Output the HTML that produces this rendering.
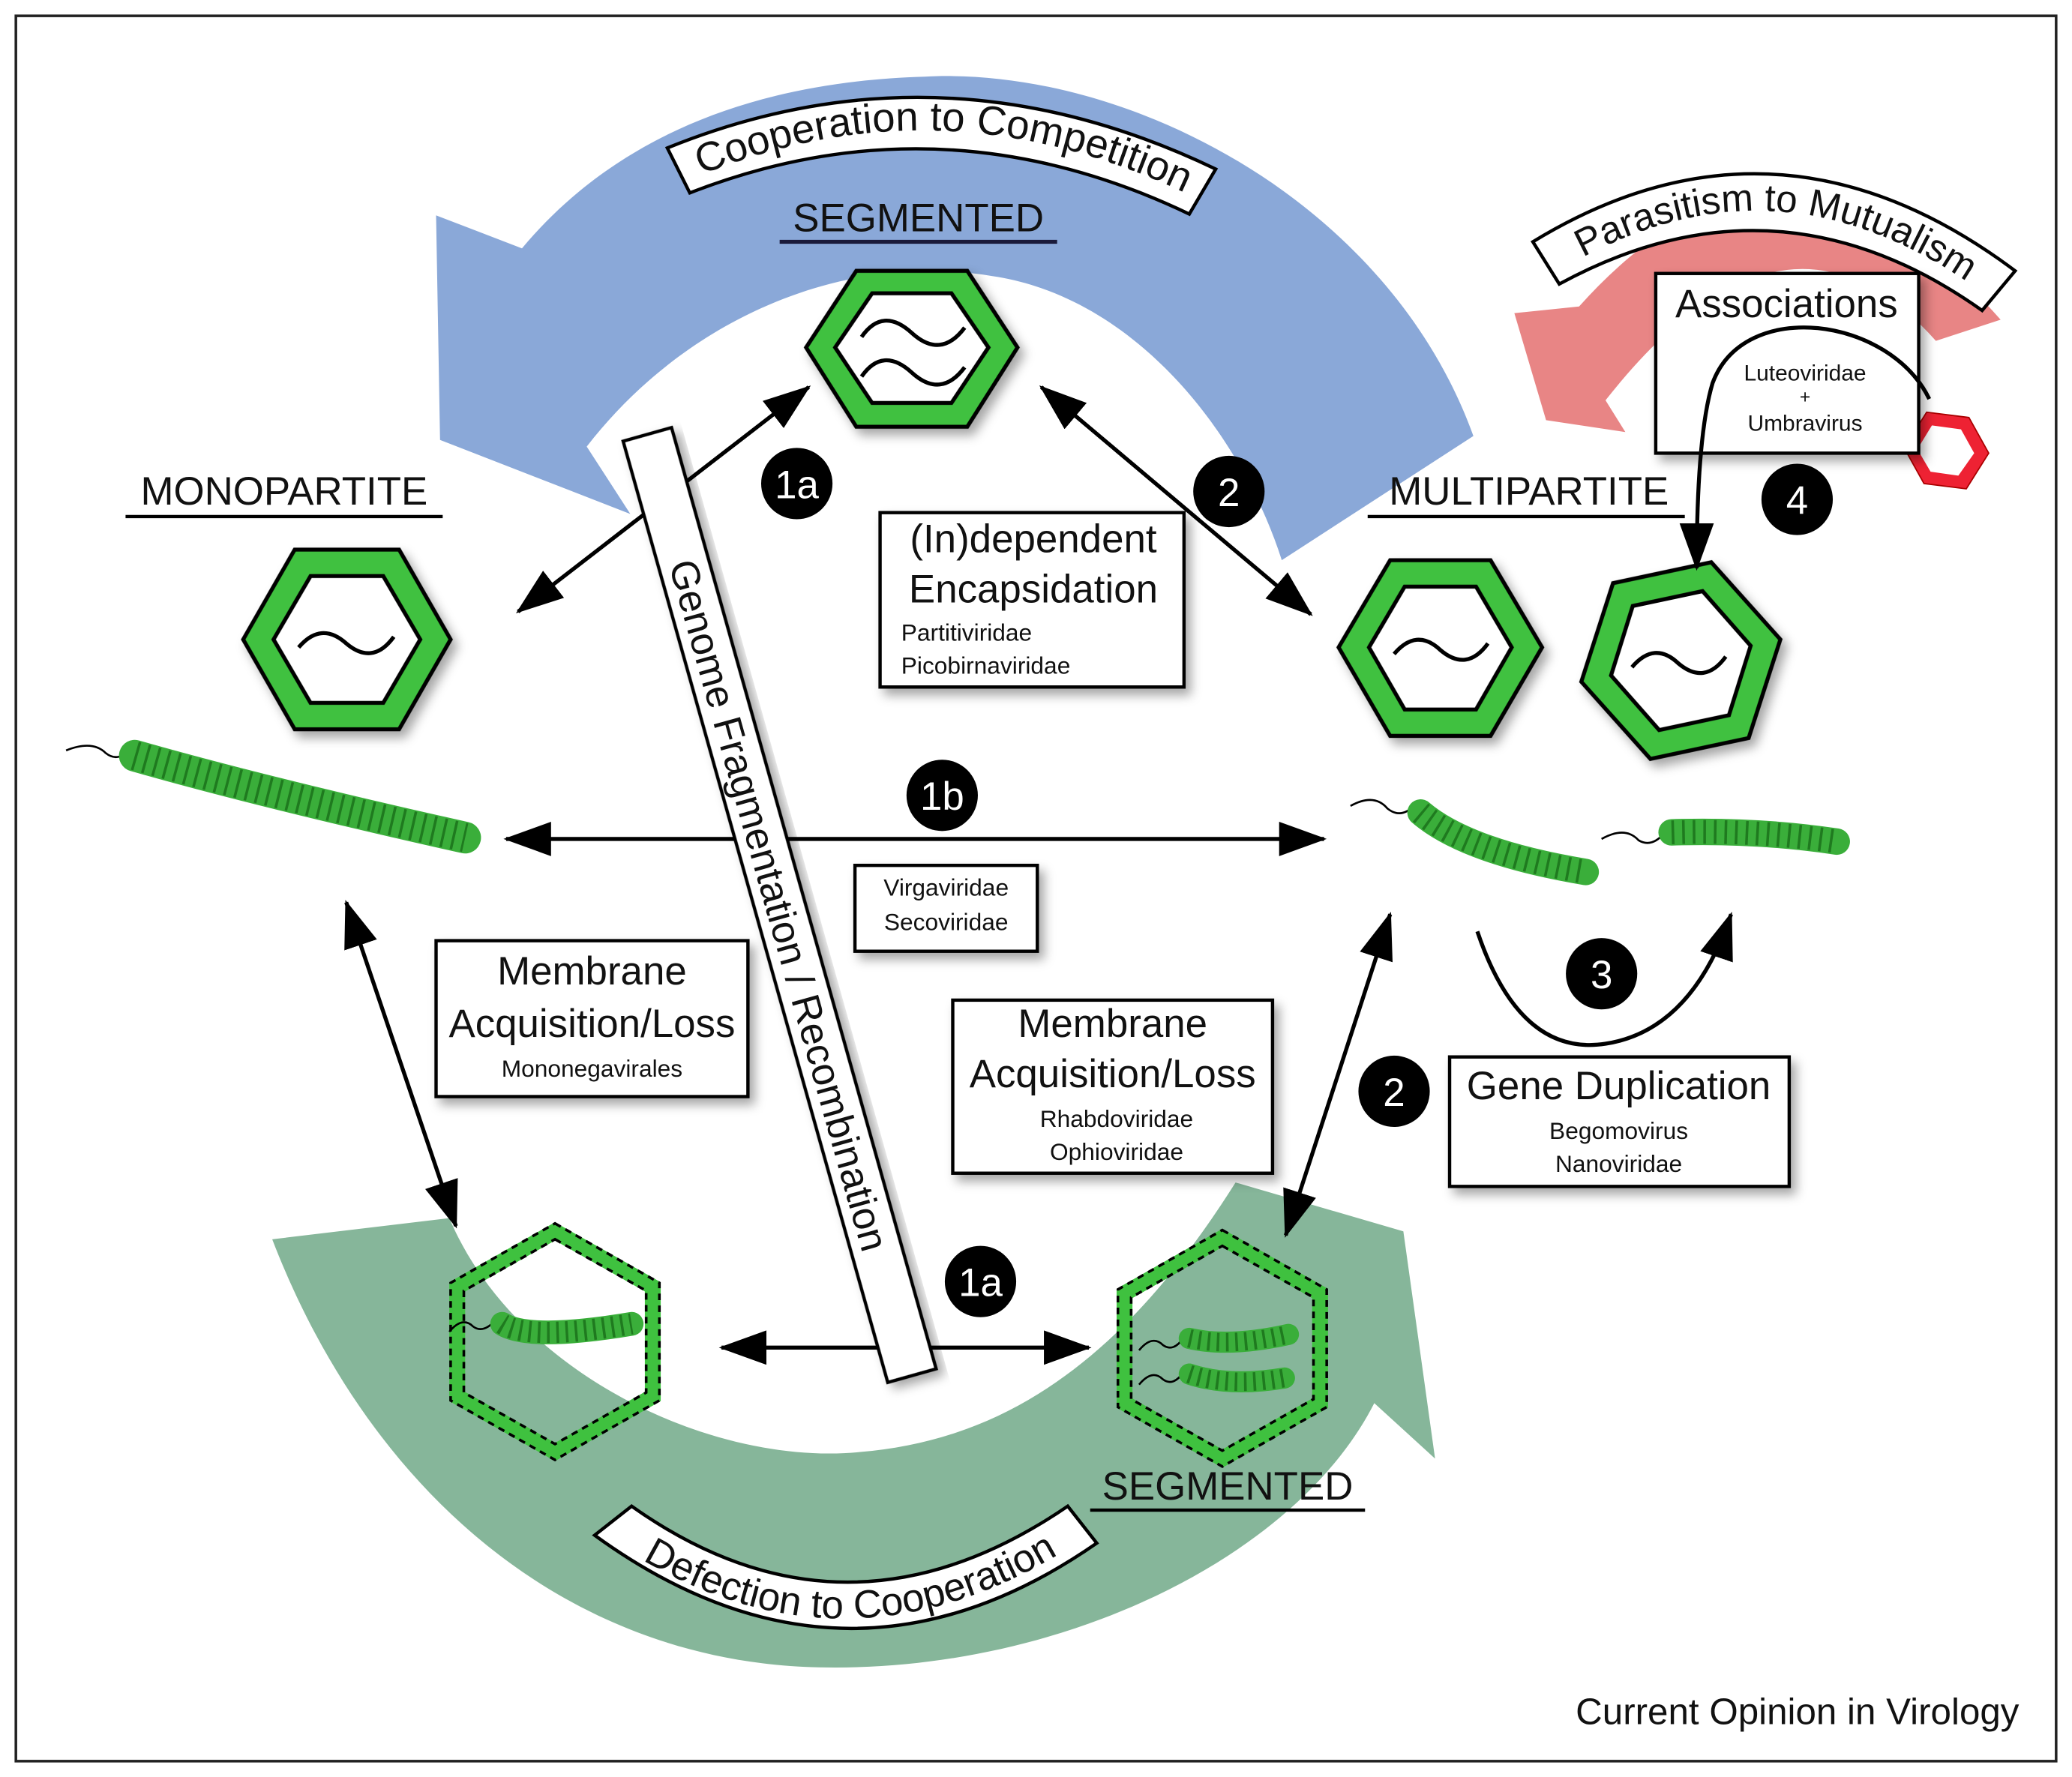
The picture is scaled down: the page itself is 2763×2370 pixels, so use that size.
<!DOCTYPE html>
<html><head><meta charset="utf-8"><style>html,body{margin:0;padding:0;background:#fff}svg{display:block}text{font-family:"Liberation Sans",Arial,sans-serif;fill:#111}</style></head><body>
<svg width="2763" height="2370" viewBox="0 0 1568 1345" xmlns="http://www.w3.org/2000/svg" font-family="Liberation Sans, Arial, sans-serif">
<defs>
<marker id="ah" markerUnits="userSpaceOnUse" markerWidth="40" markerHeight="30" refX="34" refY="13" orient="auto-start-reverse"><path d="M0,0 L36,13 L0,26 Z" fill="#000"/></marker>
<filter id="sh" x="-20%" y="-20%" width="140%" height="140%"><feDropShadow dx="4" dy="5" stdDeviation="4" flood-color="#000" flood-opacity="0.35"/></filter>
</defs>
<rect x="0" y="0" width="1568" height="1345" fill="#fff"/>
<rect x="12" y="12" width="1544" height="1321" fill="none" stroke="#222" stroke-width="2"/>

<!-- blue arrow -->
<path d="M1115 330 C1050 150 850 50 700 58 C560 62 460 110 395 188 L330 163 L333 333 L477 389 L444 338 C520 240 640 190 751 209 C860 225 940 330 970 424 Z" fill="#8aa8d8"/>
<!-- red arrow -->
<path d="M1514 242 Q1351 57 1195 232 L1146 237 L1170 318 L1230 327 L1215 303 Q1351 130 1465 258 Z" fill="#e88585"/>
<!-- green arrow -->
<path d="M206 938 L340 922 C390 1040 540 1110 651 1099 C760 1090 850 1030 935 895 L1062 932 L1086 1104 L1040 1062 C980 1180 800 1266 620 1262 C430 1258 280 1130 206 938 Z" fill="#86b69a"/>

<!-- banners -->
<path d="M505 112 Q712 28 920 128 L900 162 Q712 72 522 146 Z" fill="#fff" stroke="#000" stroke-width="2.5"/>
<path id="b1" d="M522 136 Q712 55 905 150" fill="none"/>
<text font-size="31"><textPath href="#b1" startOffset="50%" text-anchor="middle">Cooperation to Competition</textPath></text>
<path d="M1160 183 Q1345 70 1525 205 L1500 235 Q1345 125 1180 215 Z" fill="#fff" stroke="#000" stroke-width="2.5"/>
<path id="b2" d="M1180 205 Q1345 105 1505 225" fill="none"/>
<text font-size="29"><textPath href="#b2" startOffset="50%" text-anchor="middle">Parasitism to Mutualism</textPath></text>
<path d="M450 1162 Q640 1300 830 1168 L808 1140 Q640 1255 478 1140 Z" fill="#fff" stroke="#000" stroke-width="2.5"/>
<path id="b3" d="M472 1172 Q640 1280 815 1168" fill="none"/>
<text font-size="30"><textPath href="#b3" startOffset="50%" text-anchor="middle">Defection to Cooperation</textPath></text>

<!-- headings -->
<text x="695" y="175" font-size="30" text-anchor="middle" fill="#1a1a3a">SEGMENTED</text>
<line x1="590" y1="183" x2="800" y2="183" stroke="#1a1a3a" stroke-width="3"/>
<text x="215" y="382" font-size="30" text-anchor="middle">MONOPARTITE</text>
<line x1="95" y1="391" x2="335" y2="391" stroke="#000" stroke-width="2.5"/>
<text x="1157" y="382" font-size="30" text-anchor="middle">MULTIPARTITE</text>
<line x1="1035" y1="391" x2="1275" y2="391" stroke="#000" stroke-width="2.5"/>
<text x="929" y="1135" font-size="30" text-anchor="middle">SEGMENTED</text>
<line x1="825" y1="1143" x2="1033" y2="1143" stroke="#000" stroke-width="2.5"/>

<!-- solid hexes -->
<g filter="url(#sh)">
<polygon points="648,205 732,205 770,263 732,323 648,323 610,263" fill="#3fc13f" stroke="#000" stroke-width="3"/>
<polygon points="660,222 720,222 748,263 720,305 660,305 632,263" fill="#fff" stroke="#000" stroke-width="3"/>
<polygon points="223,416 302,416 341,484 302,552 223,552 184,484" fill="#3fc13f" stroke="#000" stroke-width="3"/>
<polygon points="235,436 290,436 318,484 290,532 235,532 207,484" fill="#fff" stroke="#000" stroke-width="3"/>
<polygon points="1052,424 1128,424 1167,490 1128,557 1052,557 1013,490" fill="#3fc13f" stroke="#000" stroke-width="3"/>
<polygon points="1063,444 1117,444 1144,490 1117,537 1063,537 1036,490" fill="#fff" stroke="#000" stroke-width="3"/>
<g transform="rotate(-12 1272 500)">
<polygon points="1234,432 1310,432 1349,500 1310,568 1234,568 1195,500" fill="#3fc13f" stroke="#000" stroke-width="3"/>
<polygon points="1245,452 1299,452 1326,500 1299,548 1245,548 1218,500" fill="#fff" stroke="#000" stroke-width="3"/>
</g>
</g>
<polygon points="1458,312 1490,316 1505,343 1488,370 1456,366 1441,339" fill="#e23" stroke="#a00" stroke-width="1"/>
<polygon points="1462,322 1484,325 1494,343 1482,360 1461,357 1451,340" fill="#fff"/>
<g fill="none" stroke="#000" stroke-width="3">
<path d="M652 255 Q668 232 690 252 Q712 272 730 248"/>
<path d="M652 285 Q668 262 690 282 Q712 302 730 278"/>
<path d="M226 490 Q243 470 262 487 Q282 504 298 482"/>
<path d="M1055 495 Q1072 475 1090 492 Q1110 509 1126 487"/>
<path d="M1235 505 Q1252 485 1270 502 Q1290 519 1306 497"/>
</g>

<!-- dashed hexes -->
<g fill="none">
<polygon points="420,932 494,974 494,1057 420,1099 346,1057 346,974" stroke="#3fc13f" stroke-width="12"/>
<polygon points="420,926 499,971 499,1060 420,1105 341,1060 341,971" stroke="#000" stroke-width="2" stroke-dasharray="5 4"/>
<polygon points="420,938 489,977 489,1054 420,1093 351,1054 351,977" stroke="#000" stroke-width="2" stroke-dasharray="5 4"/>
<polygon points="925,937 999,979 999,1062 925,1104 851,1062 851,979" stroke="#3fc13f" stroke-width="12"/>
<polygon points="925,931 1004,976 1004,1065 925,1110 846,1065 846,976" stroke="#000" stroke-width="2" stroke-dasharray="5 4"/>
<polygon points="925,943 994,982 994,1059 925,1098 856,1059 856,982" stroke="#000" stroke-width="2" stroke-dasharray="5 4"/>
</g>

<!-- rods -->
<g fill="none">
<path d="M50 568 Q70 560 80 570 Q90 578 100 565" stroke="#000" stroke-width="1.5"/>
<path d="M102 572 Q200 600 352 634" stroke="#3aae3a" stroke-width="24" stroke-linecap="round"/>
<path d="M102 572 Q200 600 352 634" stroke="#1f7a1f" stroke-width="22" stroke-dasharray="2 6"/>
<path d="M1022 610 Q1040 600 1050 612 Q1060 620 1070 610" stroke="#000" stroke-width="1.5"/>
<path d="M1075 615 Q1110 645 1200 660" stroke="#3aae3a" stroke-width="20" stroke-linecap="round"/>
<path d="M1075 615 Q1110 645 1200 660" stroke="#1f7a1f" stroke-width="18" stroke-dasharray="2 6"/>
<path d="M1212 635 Q1230 625 1240 636 Q1250 642 1260 630" stroke="#000" stroke-width="1.5"/>
<path d="M1265 630 Q1330 628 1390 637" stroke="#3aae3a" stroke-width="20" stroke-linecap="round"/>
<path d="M1265 630 Q1330 628 1390 637" stroke="#1f7a1f" stroke-width="18" stroke-dasharray="2 6"/>
<path d="M340 1008 Q350 996 358 1004 Q366 1010 376 998" stroke="#000" stroke-width="1.5"/>
<path d="M380 1002 Q400 1015 478 1002" stroke="#3aae3a" stroke-width="18" stroke-linecap="round"/>
<path d="M380 1002 Q400 1015 478 1002" stroke="#1f7a1f" stroke-width="16" stroke-dasharray="2 5"/>
<path d="M862 1022 Q872 1010 880 1018 Q888 1024 896 1012" stroke="#000" stroke-width="1.5"/>
<path d="M900 1013 Q930 1020 975 1010" stroke="#3aae3a" stroke-width="16" stroke-linecap="round"/>
<path d="M900 1013 Q930 1020 975 1010" stroke="#1f7a1f" stroke-width="14" stroke-dasharray="2 5"/>
<path d="M862 1048 Q872 1036 880 1044 Q888 1050 896 1038" stroke="#000" stroke-width="1.5"/>
<path d="M900 1040 Q930 1050 972 1043" stroke="#3aae3a" stroke-width="16" stroke-linecap="round"/>
<path d="M900 1040 Q930 1050 972 1043" stroke="#1f7a1f" stroke-width="14" stroke-dasharray="2 5"/>
</g>

<!-- arrows -->
<g stroke="#000" stroke-width="3" fill="none" marker-start="url(#ah)" marker-end="url(#ah)">
<line x1="392" y1="463" x2="612" y2="293"/>
<line x1="788" y1="293" x2="992" y2="465"/>
<line x1="383" y1="635" x2="1002" y2="635"/>
<line x1="262" y1="683" x2="345" y2="928"/>
<line x1="1052" y1="692" x2="973" y2="935"/>
<line x1="546" y1="1020" x2="824" y2="1020"/>
</g>
<path d="M1118 705 Q1150 800 1215 790 Q1280 780 1310 692" stroke="#000" stroke-width="3" fill="none" marker-end="url(#ah)"/>

<!-- genome bar -->
<g transform="translate(590 685) rotate(-15.7)">
<rect x="-19" y="-370" width="38" height="740" fill="#fff" stroke="#000" stroke-width="2.5" filter="url(#sh)"/>
<text transform="rotate(90)" x="0" y="11" font-size="30" text-anchor="middle">Genome Fragmentation / Recombination</text>
</g>

<!-- boxes -->
<g fill="#fff" stroke="#000" stroke-width="2.5" filter="url(#sh)">
<rect x="1253" y="207" width="199" height="136"/>
<rect x="666" y="388" width="230" height="132"/>
<rect x="647" y="655" width="138" height="65"/>
<rect x="330" y="712" width="236" height="118"/>
<rect x="721" y="757" width="242" height="131"/>
<rect x="1097" y="800" width="257" height="98"/>
</g>
<path d="M1460 302 C1430 240 1320 225 1296 290 Q1284 330 1284 430" stroke="#000" stroke-width="3" fill="none" marker-end="url(#ah)"/>
<g text-anchor="middle">
<text x="1352" y="240" font-size="30">Associations</text>
<text x="1366" y="288" font-size="17">Luteoviridae</text>
<text x="1366" y="305" font-size="14">+</text>
<text x="1366" y="326" font-size="17">Umbravirus</text>
<text x="782" y="418" font-size="30">(In)dependent</text>
<text x="782" y="456" font-size="30">Encapsidation</text>
<text x="716" y="678" font-size="18">Virgaviridae</text>
<text x="716" y="704" font-size="18">Secoviridae</text>
<text x="448" y="745" font-size="30">Membrane</text>
<text x="448" y="785" font-size="30">Acquisition/Loss</text>
<text x="448" y="815" font-size="18">Mononegavirales</text>
<text x="842" y="785" font-size="30">Membrane</text>
<text x="842" y="823" font-size="30">Acquisition/Loss</text>
<text x="845" y="853" font-size="18">Rhabdoviridae</text>
<text x="845" y="878" font-size="18">Ophioviridae</text>
<text x="1225" y="832" font-size="30">Gene Duplication</text>
<text x="1225" y="862" font-size="18">Begomovirus</text>
<text x="1225" y="887" font-size="18">Nanoviridae</text>
</g>
<text x="682" y="485" font-size="18">Partitiviridae</text>
<text x="682" y="510" font-size="18">Picobirnaviridae</text>

<!-- circles -->
<g fill="#000">
<circle cx="603" cy="366" r="27"/><circle cx="930" cy="372" r="27"/><circle cx="1360" cy="378" r="27"/>
<circle cx="713" cy="602" r="27"/><circle cx="1212" cy="737" r="27"/><circle cx="1055" cy="826" r="27"/><circle cx="742" cy="970" r="27"/>
</g>
<g text-anchor="middle" font-size="30">
<text x="603" y="377" style="fill:#fff">1a</text>
<text x="930" y="383" style="fill:#fff">2</text>
<text x="1360" y="389" style="fill:#fff">4</text>
<text x="713" y="613" style="fill:#fff">1b</text>
<text x="1212" y="748" style="fill:#fff">3</text>
<text x="1055" y="837" style="fill:#fff">2</text>
<text x="742" y="981" style="fill:#fff">1a</text>
</g>

<text x="1528" y="1305" font-size="28" text-anchor="end">Current Opinion in Virology</text>
</svg>
</body></html>
